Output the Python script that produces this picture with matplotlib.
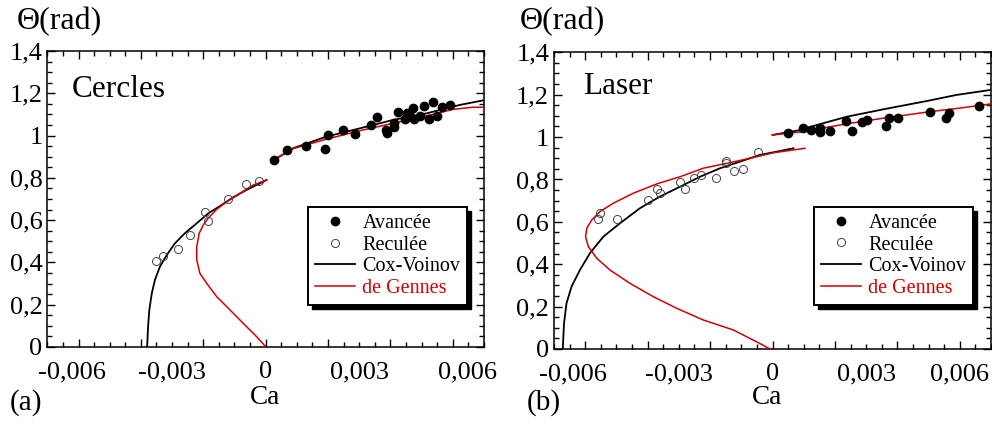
import matplotlib
matplotlib.use('Agg')
import matplotlib.pyplot as plt
from matplotlib.lines import Line2D
from matplotlib.patches import Rectangle
from matplotlib.ticker import MultipleLocator
import matplotlib.transforms as mtransforms

plt.rcParams['font.family'] = ['Liberation Serif', 'DejaVu Serif']

# ---------------- data : panel (a) Cercles ----------------
a_adv_x = [0.00027, 0.00069, 0.00128, 0.00190, 0.00201, 0.00249, 0.00286, 0.00338,
           0.00356, 0.00385, 0.00388, 0.00413, 0.00413, 0.00423, 0.00447, 0.00454,
           0.00473, 0.00476, 0.00462, 0.00494, 0.00507, 0.00523, 0.00535, 0.00548,
           0.00566, 0.00591]
a_adv_y = [0.885, 0.930, 0.952, 0.937, 1.003, 1.026, 1.006, 1.052,
           1.086, 1.026, 1.011, 1.058, 1.039, 1.112, 1.077, 1.105,
           1.131, 1.077, 1.093, 1.093, 1.141, 1.080, 1.159, 1.094,
           1.137, 1.143]
a_rec_x = [-0.00352, -0.00330, -0.00282, -0.00242, -0.00196, -0.00184, -0.00122, -0.00062, -0.00021]
a_rec_y = [0.407, 0.432, 0.465, 0.528, 0.637, 0.598, 0.700, 0.770, 0.787]

a_cv_neg_x = [-0.00380, -0.00377, -0.00373, -0.00365, -0.00355, -0.00339, -0.00317, -0.00291,
              -0.00259, -0.00221, -0.00184, -0.00146, -0.00104, -0.00061, -0.00018, 0.00003]
a_cv_neg_y = [0.000, 0.096, 0.175, 0.254, 0.317, 0.380, 0.435, 0.490,
              0.538, 0.585, 0.632, 0.667, 0.708, 0.743, 0.774, 0.790]
a_dg_neg_x = [0.00001, -0.00029, -0.00072, -0.00125, -0.00157, -0.00189, -0.00211, -0.00221,
              -0.00221, -0.00213, -0.00200, -0.00184, -0.00157, -0.00125, -0.00082, -0.00040, 0.00003]
a_dg_neg_y = [0.000, 0.049, 0.112, 0.191, 0.238, 0.301, 0.349, 0.412,
              0.474, 0.538, 0.577, 0.609, 0.651, 0.687, 0.727, 0.766, 0.790]
a_cv_pos_x = [0.00027, 0.00088, 0.00195, 0.00302, 0.00409, 0.00516, 0.00623, 0.00703]
a_cv_pos_y = [0.885, 0.940, 0.995, 1.034, 1.074, 1.105, 1.145, 1.168]
a_dg_pos_x = [0.00027, 0.00088, 0.00195, 0.00302, 0.00409, 0.00516, 0.00601, 0.00665, 0.00703]
a_dg_pos_y = [0.885, 0.938, 0.983, 1.023, 1.058, 1.093, 1.124, 1.134, 1.134]

# ---------------- data : panel (b) Laser ----------------
b_adv_x = [0.00049, 0.00099, 0.00122, 0.00152, 0.00153, 0.00184, 0.00235, 0.00255,
           0.00286, 0.00302, 0.00363, 0.00374, 0.00403, 0.00503, 0.00557, 0.00566, 0.00662]
b_adv_y = [1.018, 1.041, 1.035, 1.043, 1.022, 1.030, 1.076, 1.029,
           1.073, 1.079, 1.052, 1.092, 1.092, 1.120, 1.092, 1.115, 1.145]
b_rec_x = [-0.00560, -0.00553, -0.00499, -0.00398, -0.00371, -0.00361, -0.00296, -0.00280,
           -0.00251, -0.00230, -0.00181, -0.00150, -0.00149, -0.00123, -0.00096, -0.00046]
b_rec_y = [0.613, 0.640, 0.612, 0.703, 0.754, 0.738, 0.790, 0.754,
           0.805, 0.821, 0.805, 0.887, 0.876, 0.841, 0.849, 0.931]
b_cv_neg_x = [-0.00672, -0.00668, -0.00660, -0.00644, -0.00617, -0.00585, -0.00542, -0.00489,
              -0.00425, -0.00361, -0.00296, -0.00232, -0.00168, -0.00104, -0.00040, 0.00013, 0.00067]
b_cv_neg_y = [0.000, 0.121, 0.216, 0.294, 0.373, 0.452, 0.530, 0.593,
              0.664, 0.719, 0.766, 0.813, 0.853, 0.884, 0.916, 0.931, 0.947]
b_dg_neg_x = [-0.00008, -0.00051, -0.00126, -0.00222, -0.00307, -0.00382, -0.00457, -0.00521,
              -0.00563, -0.00590, -0.00599, -0.00595, -0.00579, -0.00553, -0.00510, -0.00446,
              -0.00371, -0.00296, -0.00222, -0.00147, -0.00072, 0.00003, 0.00104]
b_dg_neg_y = [0.000, 0.034, 0.090, 0.137, 0.192, 0.247, 0.310, 0.373,
              0.428, 0.483, 0.530, 0.570, 0.609, 0.648, 0.688, 0.735,
              0.779, 0.813, 0.853, 0.876, 0.900, 0.926, 0.947]
b_cv_pos_x = [0.00000, 0.00088, 0.00142, 0.00238, 0.00355, 0.00494, 0.00590, 0.00697]
b_cv_pos_y = [1.010, 1.033, 1.057, 1.096, 1.131, 1.170, 1.199, 1.222]
b_dg_pos_x = [0.00000, 0.00088, 0.00248, 0.00355, 0.00505, 0.00612, 0.00697]
b_dg_pos_y = [1.010, 1.024, 1.065, 1.089, 1.120, 1.139, 1.156]

xtick_vals = [-0.006, -0.003, 0.0, 0.003, 0.006]
xtick_labels = ['-0,006', '-0,003', '0', '0,003', '0,006']
ytick_vals = [0.0, 0.2, 0.4, 0.6, 0.8, 1.0, 1.2, 1.4]
ytick_labels = ['0', '0,2', '0,4', '0,6', '0,8', '1', '1,2', '1,4']
legend_labels = ['Avancée', 'Reculée', 'Cox-Voinov', 'de Gennes']

RED = '#d40000'
TICK_FS = 19
MS_FILL = 6.0
MS_OPEN = 5.8

fig = plt.figure(figsize=(9.92, 4.28), dpi=100)
axA = fig.add_axes([0.0477, 0.1893, 0.4402, 0.6916])
axB = fig.add_axes([0.5585, 0.1846, 0.4405, 0.6932])


def style(ax, label_shift):
    ax.set_xlim(-0.007, 0.007)
    ax.set_ylim(0, 1.4)
    ax.xaxis.set_major_locator(MultipleLocator(0.002))
    ax.xaxis.set_minor_locator(MultipleLocator(0.0005))
    ax.set_yticks(ytick_vals)
    ax.set_yticklabels(ytick_labels)
    ax.yaxis.set_minor_locator(MultipleLocator(0.05))
    ax.tick_params(which='both', direction='in', top=True, right=True,
                   bottom=True, left=True, width=1.0, labelbottom=False)
    ax.tick_params(which='major', length=6)
    ax.tick_params(which='minor', length=3.5)
    ax.tick_params(axis='y', labelsize=TICK_FS, pad=3.5)
    for s in ax.spines.values():
        s.set_linewidth(1.1)
    for v, lab in zip(xtick_vals, xtick_labels):
        dx = label_shift.get(lab, 0)
        tr = mtransforms.blended_transform_factory(ax.transData, ax.transAxes) + \
            mtransforms.ScaledTranslation(dx / 100.0, -14 / 100.0, fig.dpi_scale_trans)
        ax.text(v, 0, lab, transform=tr, ha='center', va='top', fontsize=TICK_FS)


def panel(ax, adv_x, adv_y, rec_x, rec_y, cvn_x, cvn_y, dgn_x, dgn_y,
          cvp_x, cvp_y, dgp_x, dgp_y):
    ax.plot(cvn_x, cvn_y, color='black', lw=1.3, zorder=2)
    ax.plot(cvp_x, cvp_y, color='black', lw=1.3, zorder=2)
    ax.plot(dgn_x, dgn_y, color=RED, lw=1.1, zorder=3)
    ax.plot(dgp_x, dgp_y, color=RED, lw=1.1, zorder=3)
    ax.plot(adv_x, adv_y, 'o', ms=MS_FILL, mfc='black', mec='black', zorder=4)
    ax.plot(rec_x, rec_y, 'o', ms=MS_OPEN, mfc='none', mec='#444444', mew=0.7, zorder=4)


legends = []


def legend(ax, x0, y0):
    handles = [
        Line2D([], [], ls='none', marker='o', ms=MS_FILL, mfc='black', mec='black'),
        Line2D([], [], ls='none', marker='o', ms=MS_OPEN, mfc='white', mec='#444444', mew=0.7),
        Line2D([], [], color='black', lw=1.3),
        Line2D([], [], color=RED, lw=1.1),
    ]
    leg = ax.legend(handles, legend_labels, loc='upper left', bbox_to_anchor=(x0, y0),
                    bbox_transform=ax.transAxes, fontsize=14.5, frameon=True,
                    fancybox=False, edgecolor='black', framealpha=1,
                    borderpad=0.35, labelspacing=0.12, handlelength=2.0,
                    handletextpad=0.35, borderaxespad=0)
    leg.get_frame().set_linewidth(1.4)
    leg.get_texts()[3].set_color(RED)
    leg.set_zorder(10)
    legends.append((ax, leg))


panel(axA, a_adv_x, a_adv_y, a_rec_x, a_rec_y, a_cv_neg_x, a_cv_neg_y,
      a_dg_neg_x, a_dg_neg_y, a_cv_pos_x, a_cv_pos_y, a_dg_pos_x, a_dg_pos_y)
panel(axB, b_adv_x, b_adv_y, b_rec_x, b_rec_y, b_cv_neg_x, b_cv_neg_y,
      b_dg_neg_x, b_dg_neg_y, b_cv_pos_x, b_cv_pos_y, b_dg_pos_x, b_dg_pos_y)

style(axA, {'-0,006': -7, '0,006': 15})
style(axB, {'-0,006': -12})

legend(axA, 0.597, 0.473)
legend(axB, 0.595, 0.479)

axA.text(0.0566, 0.846, 'Cercles', transform=axA.transAxes, fontsize=22.5,
         ha='left', va='baseline')
axB.text(0.0657, 0.858, 'Laser', transform=axB.transAxes, fontsize=22.5,
         ha='left', va='baseline')

fig.text(17 / 992, 0.931, 'Θ(rad)', fontsize=23, ha='left', va='baseline')
fig.text(520 / 992, 0.931, 'Θ(rad)', fontsize=23, ha='left', va='baseline')
fig.text(265 / 992, 0.0555, 'Ca', fontsize=19.5, ha='center', va='baseline')
fig.text(767 / 992, 0.0555, 'Ca', fontsize=19.5, ha='center', va='baseline')
fig.text(10 / 992, 0.042, '(a)', fontsize=21, ha='left', va='baseline')
fig.text(527 / 992, 0.042, '(b)', fontsize=21, ha='left', va='baseline')

# heavy black drop shadow behind each legend box
fig.canvas.draw()
for ax, leg in legends:
    bb = leg.get_frame().get_window_extent()
    sh = Rectangle((bb.x0 + 4, bb.y0 - 4), bb.width, bb.height, transform=None,
                   facecolor='black', edgecolor='black', zorder=9)
    ax.add_artist(sh)

fig.savefig('out.png', dpi=100)
